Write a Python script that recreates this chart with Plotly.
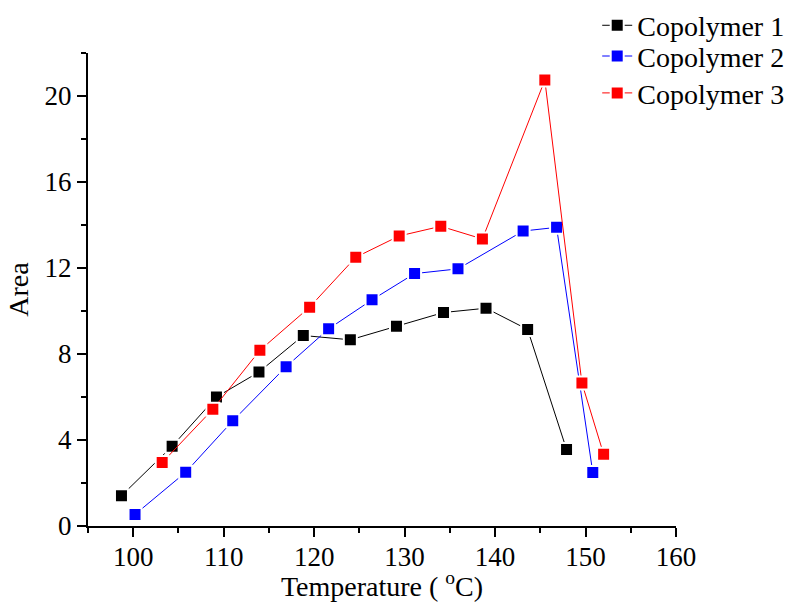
import plotly.graph_objects as go

# Copolymer 1 (black)
x1 = [98.7, 104.3, 109.2, 113.9, 118.8, 124.0, 129.1, 134.3, 139.0, 143.6, 147.9]
y1 = [1.41, 3.71, 6.00, 7.16, 8.86, 8.66, 9.29, 9.93, 10.13, 9.14, 3.56]
# Copolymer 2 (blue)
x2 = [100.2, 105.8, 111.0, 116.9, 121.6, 126.4, 131.1, 135.9, 143.1, 146.8, 150.8]
y2 = [0.54, 2.50, 4.89, 7.41, 9.17, 10.52, 11.74, 11.96, 13.72, 13.89, 2.49]
# Copolymer 3 (red)
x3 = [103.2, 108.8, 114.0, 119.5, 124.6, 129.4, 134.0, 138.6, 145.5, 149.6, 152.0]
y3 = [2.95, 5.43, 8.17, 10.18, 12.50, 13.49, 13.94, 13.35, 20.74, 6.65, 3.34]

names = ["Copolymer 1", "Copolymer 2", "Copolymer 3"]
colors = ["#000000", "#0000FF", "#FF0000"]
legend_ids = ["legend", "legend2", "legend3"]
legend_y = [1.058, 0.993, 0.915]
FONT = "Liberation Serif, Times New Roman, serif"

fig = go.Figure()
for xs, ys, name, c, lg in zip([x1, x2, x3], [y1, y2, y3], names, colors, legend_ids):
    fig.add_trace(go.Scatter(
        x=xs, y=ys, name=name, mode="lines+markers", legend=lg,
        line=dict(color=c, width=1),
        marker=dict(symbol="square", size=13, color=c,
                    line=dict(color="white", width=2)),
    ))

axis_common = dict(
    showline=True, linecolor="black", linewidth=2,
    ticks="outside", ticklen=9, tickwidth=2, tickcolor="black",
    showgrid=False, zeroline=False, mirror=False, automargin=False,
    tickfont=dict(family=FONT, size=27, color="black"),
)

fig.update_xaxes(
    range=[95, 160], tick0=100, dtick=10, ticklabelstandoff=-3,
    minor=dict(ticks="outside", dtick=5, tick0=95, ticklen=5, tickwidth=2, tickcolor="black"),
    title=dict(text="Temperature ( <sup>o</sup>C)", font=dict(family=FONT, size=28, color="black"), standoff=4),
    **axis_common,
)
fig.update_yaxes(
    range=[0, 22], tick0=0, dtick=4,
    minor=dict(ticks="outside", dtick=2, tick0=0, ticklen=5, tickwidth=2, tickcolor="black"),
    title=dict(text="Area", font=dict(family=FONT, size=28, color="black"), standoff=8),
    **axis_common,
)

legend_style = dict(
    x=0.866, xanchor="left", yanchor="middle",
    font=dict(family=FONT, size=28, color="black"),
    bgcolor="rgba(0,0,0,0)",
)
fig.update_layout(
    width=797, height=602,
    margin=dict(l=88, r=121, t=53, b=76, autoexpand=False),
    plot_bgcolor="white", paper_bgcolor="white",
    font=dict(family=FONT, size=28, color="black"),
    showlegend=True,
    legend=dict(y=legend_y[0], **legend_style),
    legend2=dict(y=legend_y[1], **legend_style),
    legend3=dict(y=legend_y[2], **legend_style),
)

fig.write_html("out.html")
